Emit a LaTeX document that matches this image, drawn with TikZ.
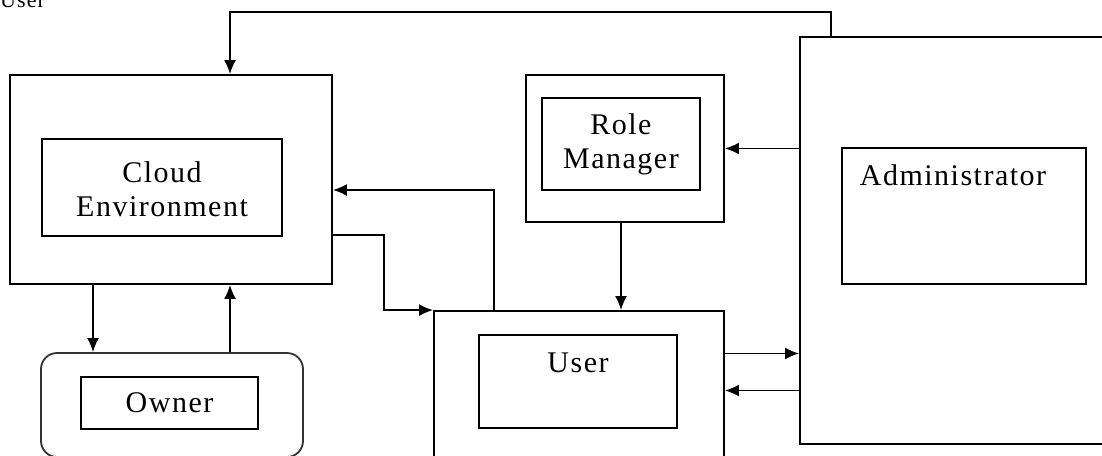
\documentclass[tikz,border=0pt]{standalone}
\usepackage{fontspec}
\setmainfont{Liberation Serif}[LetterSpace=5]
\usetikzlibrary{shapes,arrows,calc,positioning,arrows.meta}

\begin{document}
\begin{tikzpicture}[
    x=1pt,y=-1pt,
    >={Latex[length=14pt,width=12pt]},
    font=\fontsize{30}{34}\selectfont,
    box/.style={rectangle,draw,line width=1.8pt,inner sep=0pt},
    arr/.style={->,line width=1.8pt}]
    \useasboundingbox (0,0) rectangle (1102,455);

    \node[anchor=base west,inner sep=0pt,font=\fontsize{22}{26}\selectfont] (toptext) at (0,8) {User};

    \node[box,minimum width=322pt,minimum height=209pt] (cloud) at (171,179.5) {};
    \node[box,minimum width=240pt,minimum height=97pt,
          label={[align=center,yshift=-2pt]center:Cloud\\Environment}] (env) at (162,187.5) {};

    \node[box,draw=black!80,rounded corners=16pt,minimum width=262pt,minimum height=104pt] (owner) at (172,405) {};
    \node[box,minimum width=177pt,minimum height=52pt,label=center:Owner] (ownerin) at (169.5,403) {};

    \node[box,minimum width=198pt,minimum height=147pt] (rolemgr) at (625,148.5) {};
    \node[box,minimum width=158pt,minimum height=92pt,
          label={[align=center]center:Role\\Manager}] (rolein) at (621,144) {};

    \node[box,minimum width=290pt,minimum height=159pt] (user) at (579,390.5) {};
    \node[box,minimum width=198pt,minimum height=93pt,
          label={[yshift=19pt]center:User}] (userin) at (578,381.5) {};

    \node[box,minimum width=320pt,minimum height=407pt] (admin) at (960,240.5) {};
    \node[box,minimum width=244pt,minimum height=136pt,
          label={[xshift=-11pt,yshift=41pt]center:Administrator}] (adminin) at (964,216) {};

    \draw[arr] ([xshift=32pt]admin.north west) -- ++(0,-24) -| ([xshift=59pt]cloud.north);
    \draw[arr] (admin.west |- rolemgr.east) -- (rolemgr.east);
    \draw[arr] ([xshift=-4pt]rolemgr.south) -- ([xshift=42pt]user.north);
    \draw[arr] ([xshift=-85pt]user.north) |- ([yshift=-10.5pt]cloud.east);
    \draw[arr] ([yshift=-55.5pt]cloud.east) -- ++(51,0) |- (user.north west);
    \draw[arr] ([yshift=37pt]user.east) -- ([yshift=37pt]user.east -| admin.west);
    \draw[arr] (admin.west |- user.east) -- (user.east);
    \draw[arr] ([xshift=-78pt]cloud.south) -- ([xshift=-78pt]cloud.south |- owner.north);
    \draw[arr] ([xshift=58pt]owner.north) -- ([xshift=58pt]owner.north |- cloud.south);
\end{tikzpicture}
\end{document}
